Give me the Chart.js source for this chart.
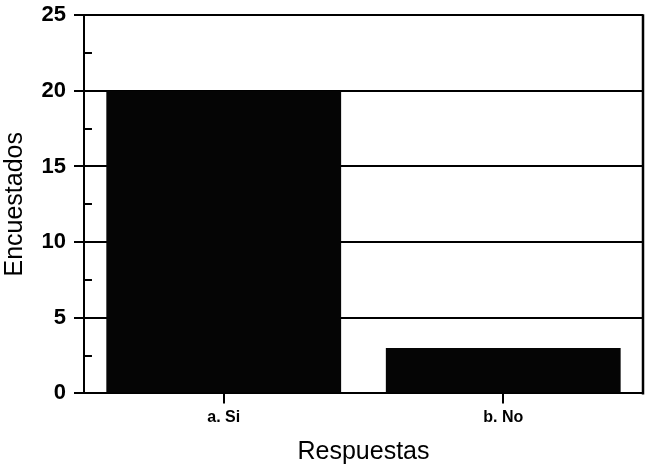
<!DOCTYPE html>
<html>
<head>
<meta charset="utf-8">
<script src="https://cdn.jsdelivr.net/npm/chart.js@4/dist/chart.umd.min.js"></script>
<style>
  html, body { margin: 0; padding: 0; background: #fff; }
  #wrap { width: 646px; height: 466px; }
</style>
</head>
<body>
<div id="wrap"><canvas id="myChart"></canvas></div>
<script>
  let labels = ["a. Si", "b. No"];
  let actualData = [20, 3];
  let yTicks = [0, 5, 10, 15, 20, 25];
  let yMinor = [2.5, 7.5, 12.5, 17.5, 22.5];

  // small inner ticks between the main ones + right edge of the frame
  const frameAndMinor = {
    id: "frameAndMinor",
    afterDraw(chart) {
      const y = chart.scales.y;
      const a = chart.chartArea;
      const c = chart.ctx;
      c.save();
      c.strokeStyle = "#000";
      c.lineWidth = 2;
      yMinor.forEach(v => {
        let py = Math.round(y.getPixelForValue(v));
        c.beginPath();
        c.moveTo(a.left, py);
        c.lineTo(a.left + 8, py);
        c.stroke();
      });
      c.lineWidth = 2.5;
      c.beginPath();
      c.moveTo(a.right, a.top - 1);
      c.lineTo(a.right, a.bottom + 1);
      c.stroke();
      c.restore();
    }
  };

  const ctx = document.getElementById('myChart');

  let data = {
    labels: labels,
    datasets: [{
      data: actualData,
      backgroundColor: "#050505",
      borderWidth: 0,
      categoryPercentage: 0.84,
      barPercentage: 1.0
    }]
  };

  const font = "Liberation Sans, Arial, Helvetica";

  let configuration = {
    type: 'bar',
    data: data,
    plugins: [frameAndMinor],
    options: {
      responsive: true,
      maintainAspectRatio: false,
      animation: false,
      layout: { padding: { top: 0, right: 3, left: 0, bottom: 0 } },
      plugins: {
        legend: { display: false },
        tooltip: { enabled: false }
      },
      scales: {
        x: {
          border: { color: "#000", width: 2 },
          grid: {
            offset: false,
            drawOnChartArea: false,
            drawTicks: true,
            tickLength: 10,
            color: "#000",
            lineWidth: 2
          },
          ticks: {
            color: "#000",
            padding: 5,
            font: { family: font, size: 16, weight: "bold", lineHeight: 1.1 }
          },
          title: {
            display: true,
            text: "Respuestas",
            color: "#000",
            padding: { top: 8.5, bottom: 1.5 },
            font: { family: font, size: 25, lineHeight: 1 }
          }
        },
        y: {
          min: 0,
          max: 25,
          afterBuildTicks(axis) {
            axis.ticks = yTicks.map(v => ({ value: v }));
          },
          border: { color: "#000", width: 2 },
          grid: {
            color: "#000",
            lineWidth: 2,
            tickLength: 10
          },
          ticks: {
            color: "#000",
            padding: 8,
            font: { family: font, size: 22, weight: "bold", lineHeight: 0.65 }
          },
          title: {
            display: true,
            text: "Encuestados",
            color: "#000",
            padding: { top: 2.5, bottom: 6 },
            font: { family: font, size: 25, lineHeight: 1 }
          }
        }
      }
    }
  };

  new Chart(ctx, configuration);
</script>
</body>
</html>
